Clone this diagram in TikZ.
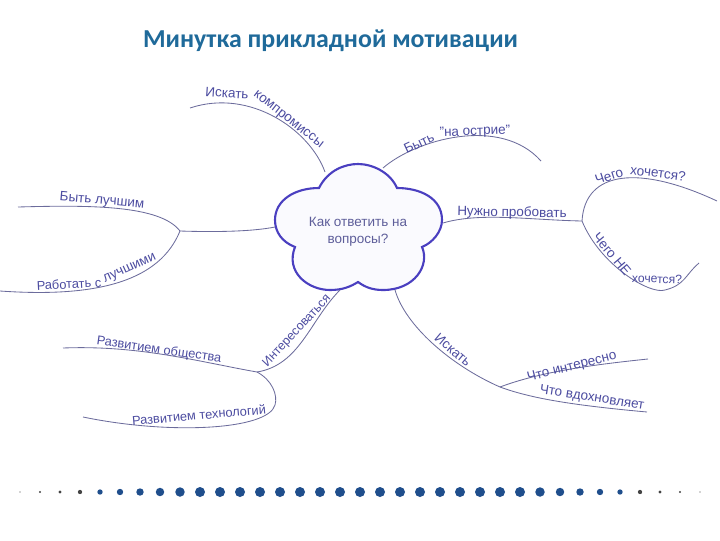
\documentclass[tikz,border=0pt]{standalone}
\usepackage{fontspec}
\setmainfont{Liberation Sans}
\newfontfamily\titlefont{Carlito}
\definecolor{titleblue}{HTML}{1F6A9A}
\definecolor{cloudblue}{HTML}{4A3FC0}
\definecolor{cloudfill}{HTML}{FAFAFE}
\definecolor{branchgray}{HTML}{6C6C9C}
\definecolor{labelblue}{HTML}{4C4CA0}
\definecolor{centergray}{HTML}{5E5E9A}
\definecolor{dotblue}{HTML}{1F4E8C}
\definecolor{dotdark}{HTML}{444444}
\newcommand{\lblfont}{\fontsize{9.6}{12}\selectfont}
\tikzset{
  branch/.style={draw=branchgray,line width=.6pt},
  lbl/.style={font=\lblfont,text=labelblue,inner sep=0pt},
}
\begin{document}
\begin{tikzpicture}[x=.025cm,y=-.025cm]
  \useasboundingbox (0,0) rectangle (720,540);
  \node[font=\titlefont\bfseries\fontsize{18.4}{22}\selectfont,text=titleblue,inner sep=0pt] (title) at (330.5,41) {Минутка прикладной мотивации};
  \coordinate (hubl) at (180,231);
  \coordinate (hubi) at (257,372);
  \coordinate (hubr) at (582,221);
  \coordinate (hubs) at (500,387);
  \coordinate (cloudtl) at (325,172);
  \coordinate (cloudtr) at (383,168);
  \coordinate (cloudl) at (275,227);
  \coordinate (cloudr) at (443,223);
  \coordinate (cloudbl) at (340,290);
  \coordinate (cloudbr) at (395,290);
  \coordinate (compr) at (190,108);
  \coordinate (edge) at (541,161);
  \coordinate (best) at (18,207);
  \coordinate (withbest) at (0,291);
  \coordinate (society) at (63,348);
  \coordinate (tech) at (83,417);
  \coordinate (want) at (717,201);
  \coordinate (nowant) at (699,263);
  \coordinate (fun) at (648,359);
  \coordinate (inspire) at (647,412);
  \draw[line width=1.5pt,draw=cloudblue,fill=cloudfill] (319,188) .. controls (328,170) and (345,164) .. (358,164)
    .. controls (372,164) and (390,172) .. (397,188) .. controls (420,188) and (442,198) .. (442,220)
    .. controls (442,232) and (432,243) .. (422,247) .. controls (430,265) and (415,290) .. (383,290)
    .. controls (372,290) and (365,287) .. (358,282) .. controls (350,287) and (342,290) .. (330,290)
    .. controls (308,290) and (285,272) .. (295,247) .. controls (282,242) and (275,232) .. (275,220)
    .. controls (275,200) and (295,188) .. (319,188) -- cycle;
  \node[font=\lblfont,text=centergray,align=center,inner sep=0pt] (center) at (358,232) {Как ответить на\\вопросы?};
  \draw[branch] (compr) .. controls (250,88) and (310,130) .. (cloudtl);
  \draw[branch] (cloudtr) .. controls (415,140) and (500,115) .. (edge);
  \draw[branch] (cloudl) .. controls (250,232) and (210,232) .. (hubl);
  \draw[branch] (hubl) .. controls (160,205) and (90,205) .. (best);
  \draw[branch] (withbest) .. controls (100,298) and (160,280) .. (hubl);
  \draw[branch] (hubi) .. controls (300,365) and (310,320) .. (cloudbl);
  \draw[branch] (hubi) .. controls (200,362) and (140,345) .. (society);
  \draw[branch] (hubi) .. controls (272,380) and (278,395) .. (275,405) .. controls (268,430) and (170,435) .. (tech);
  \draw[branch] (cloudr) .. controls (480,212) and (530,220) .. (hubr);
  \draw[branch] (hubr) .. controls (585,170) and (640,165) .. (want);
  \draw[branch] (hubr) .. controls (600,265) and (650,295) .. (665,290) .. controls (685,285) and (685,275) .. (nowant);
  \draw[branch] (cloudbr) .. controls (405,325) and (450,365) .. (hubs);
  \draw[branch] (hubs) .. controls (540,372) and (590,365) .. (fun);
  \draw[branch] (hubs) .. controls (530,398) and (570,405) .. (inspire);
  \node[lbl,rotate=-4] (lblseek1) at (227,93) {Искать};
  \node[lbl,rotate=-38] (lblcompr) at (288,120) {компромиссы};
  \node[lbl,rotate=25] (lblbe) at (419,143) {Быть};
  \node[lbl,rotate=2] (lbledge) at (475,132) {"на острие"};
  \node[lbl,rotate=-5] (lblbest) at (102,201) {Быть лучшим};
  \node[lbl,rotate=3,scale=.95] (lblwork) at (69,284) {Работать с};
  \node[lbl,rotate=25] (lblwithbest) at (130,269) {лучшими};
  \node[lbl,rotate=47,scale=.92] (lblinterest) at (297,331) {Интересоваться};
  \node[lbl,rotate=-8,scale=.95] (lblsociety) at (159,350) {Развитием общества};
  \node[lbl,rotate=5,scale=.95] (lbltech) at (199,415) {Развитием технологий};
  \node[lbl,rotate=-1] (lbltry) at (512,213) {Нужно пробовать};
  \node[lbl,rotate=18] (lblwhat) at (609,176) {Чего};
  \node[lbl,rotate=-7] (lblwant) at (658,173) {хочется?};
  \node[lbl,rotate=-50] (lblwhatnot) at (612,254) {Чего НЕ};
  \node[lbl,rotate=-2,scale=.9] (lblnowant) at (657,279) {хочется?};
  \node[lbl,rotate=-40] (lblseek) at (453,350) {Искать};
  \node[lbl,rotate=14] (lblfun) at (572,367) {Что интересно};
  \node[lbl,rotate=-9] (lblinspire) at (592,398) {Что вдохновляет};
  \foreach \i in {1,...,35} {
    \pgfmathsetmacro\r{.6+4.4*min(1,(1-abs(\i-18)/17)*2)}
    \pgfmathsetmacro\m{ifthenelse(abs(\i-18)>13,0,100)}
    \fill[dotblue!\m!dotdark] (20*\i,492) circle[radius=\r];
  }
\end{tikzpicture}
\end{document}
